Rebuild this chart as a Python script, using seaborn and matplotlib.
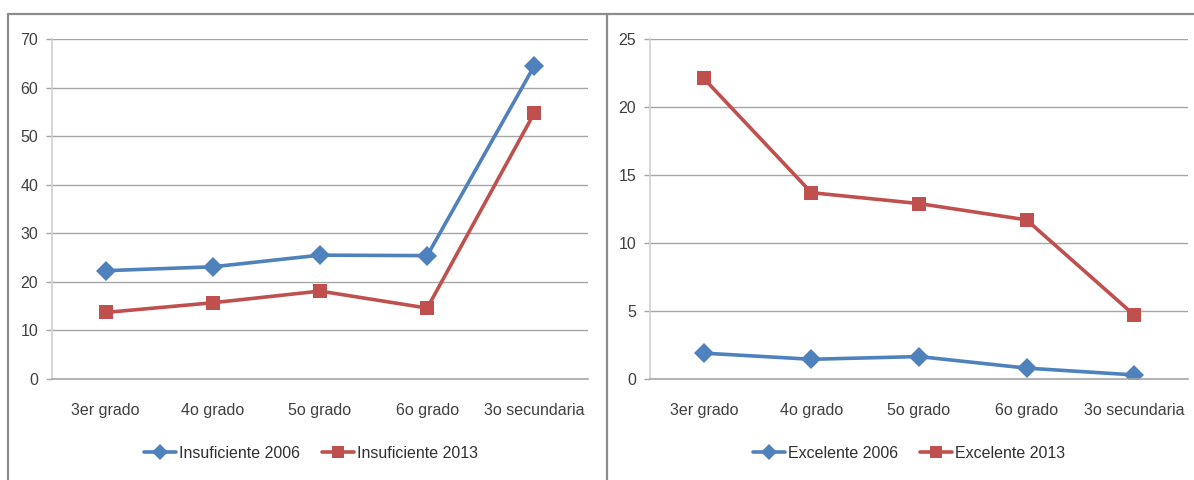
import matplotlib
matplotlib.use("Agg")
import matplotlib.pyplot as plt
from matplotlib.lines import Line2D
import numpy as np
import pandas as pd
import seaborn as sns

# Grade levels along the x axis
grados = ["3er grado", "4o grado", "5o grado", "6o grado", "3o secundaria"]

# Percentage of students at the "Insuficiente" level
insuficiente_2006 = [22.3, 23.1, 25.5, 25.4, 64.5]
insuficiente_2013 = [13.7, 15.7, 18.1, 14.6, 54.8]

# Percentage of students at the "Excelente" level
excelente_2006 = [1.9, 1.45, 1.65, 0.8, 0.3]
excelente_2013 = [22.1, 13.7, 12.9, 11.7, 4.7]

sns.set_theme(style="white")
plt.rcParams["font.family"] = ["Liberation Sans", "DejaVu Sans"]

BLUE = "#4F81BD"
RED = "#C0504D"
GRID = "#A6A6A6"
AXIS = "#D0D0D0"
FS = 11.5


def long_frame(a_label, a_vals, b_label, b_vals):
    pos = np.arange(len(grados))
    return pd.DataFrame({
        "pos": np.concatenate([pos, pos]),
        "valor": list(a_vals) + list(b_vals),
        "serie": [a_label] * len(a_vals) + [b_label] * len(b_vals),
    })


def draw_panel(ax, df, labels, ymax, ystep):
    sns.lineplot(
        data=df, x="pos", y="valor", hue="serie", style="serie",
        hue_order=labels, style_order=labels,
        palette=[BLUE, RED], markers={labels[0]: "D", labels[1]: "s"},
        dashes=False, linewidth=2.6, markersize=9.5, markeredgewidth=0,
        ax=ax, legend=False,
    )
    ax.lines[0].set_markersize(10)
    ax.set_xlim(-0.5, len(grados) - 0.5)
    ax.set_ylim(0, ymax)
    ax.set_yticks(np.arange(0, ymax + 0.1, ystep))
    ax.set_xticks(np.arange(len(grados)))
    ax.set_xticklabels(grados)
    ax.set_xticks(np.arange(-0.5, len(grados)), minor=True)
    ax.set_xlabel("")
    ax.set_ylabel("")
    ax.grid(False)
    for y in ax.get_yticks()[1:]:
        ax.axhline(y, color=GRID, lw=1.0, zorder=0)
    for side in ["top", "right"]:
        ax.spines[side].set_visible(False)
    ax.spines["left"].set_color(AXIS)
    ax.spines["left"].set_linewidth(1.2)
    ax.spines["bottom"].set_color(GRID)
    ax.spines["bottom"].set_linewidth(1.2)
    ax.tick_params(axis="x", which="major", length=0, pad=17,
                   labelsize=FS, labelcolor="#404040")
    ax.tick_params(axis="x", which="minor", length=6, width=1.0,
                   color=GRID, direction="out")
    ax.tick_params(axis="y", length=4, width=1.0, color=GRID,
                   direction="out", pad=6, labelsize=FS,
                   labelcolor="#404040", left=True)
    ax.set_facecolor("white")


def legend_for(fig, cx, labels):
    handles = [
        Line2D([], [], color=BLUE, lw=2.6, marker="D", markersize=8.5,
               markeredgewidth=0),
        Line2D([], [], color=RED, lw=2.6, marker="s", markersize=9,
               markeredgewidth=0),
    ]
    fig.legend(handles, labels, loc="center", ncol=2,
               bbox_to_anchor=(cx, 0.056), frameon=False,
               fontsize=FS, handlelength=2.0, handletextpad=0.15,
               columnspacing=1.4, labelcolor="#303030")


W, H = 1194, 480
fig = plt.figure(figsize=(W / 100, H / 100), dpi=100)
fig.patch.set_facecolor("white")

ax1 = fig.add_axes([52 / W, 1 - 379 / H, (588 - 52) / W, 340 / H])
ax2 = fig.add_axes([650 / W, 1 - 379 / H, (1188 - 650) / W, 340 / H])

ins_labels = ["Insuficiente 2006", "Insuficiente 2013"]
exc_labels = ["Excelente 2006", "Excelente 2013"]

draw_panel(ax1, long_frame(ins_labels[0], insuficiente_2006,
                           ins_labels[1], insuficiente_2013),
           ins_labels, 70, 10)
draw_panel(ax2, long_frame(exc_labels[0], excelente_2006,
                           exc_labels[1], excelente_2013),
           exc_labels, 25, 5)

legend_for(fig, 311 / W, ins_labels)
legend_for(fig, 909 / W, exc_labels)

# Chart-area frames around both panels
frame = "#8C8C8C"
top = 1 - 14 / H
fig.add_artist(Line2D([8 / W, 1.0], [top, top], color=frame, lw=1.6,
                      transform=fig.transFigure))
for x in (8, 607):
    fig.add_artist(Line2D([x / W, x / W], [0, top], color=frame, lw=1.6,
                          transform=fig.transFigure))

fig.savefig("out.png", dpi=100, facecolor="white")
